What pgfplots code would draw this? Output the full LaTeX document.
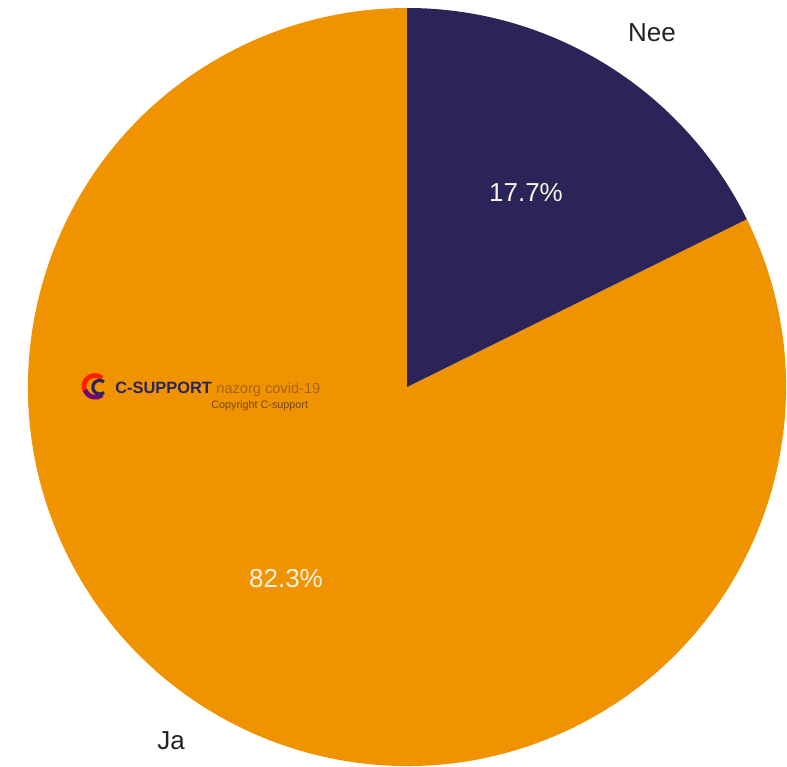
\documentclass[border=0pt]{standalone}
\usepackage{pgfplots}
\usepackage{pgfplotstable}
\pgfplotsset{compat=1.18}
\usepackage{fontspec}
\setmainfont{Liberation Sans}
\definecolor{navy}{HTML}{2A2459}
\definecolor{orng}{HTML}{F09300}
\definecolor{lbl}{HTML}{222222}
\definecolor{pct}{HTML}{FAF2E2}
\definecolor{brownish}{HTML}{A8641A}
\pgfplotstableread{
label value
Nee 17.7
Ja 82.3
}\piedata
\begin{document}
\begin{tikzpicture}
\pgfplotstablegetelem{0}{value}\of\piedata \let\vNee\pgfplotsretval
\pgfplotstablegetelem{1}{value}\of\piedata \let\vJa\pgfplotsretval
\pgfmathsetmacro{\aStart}{90}
\pgfmathsetmacro{\aMid}{90-3.6*\vNee}
\pgfmathsetmacro{\aEnd}{\aMid-3.6*\vJa}
\begin{axis}[
  x=0.5pt, y=0.5pt,
  xmin=-407, xmax=380, ymin=-379, ymax=387,
  hide axis, clip=false,
]
\path (axis cs:-407,-379) rectangle (axis cs:380,387);
\fill[orng, overlay] (axis cs:0,0) -- (axis cs:{379*cos(\aMid)},{379*sin(\aMid)})
  arc[start angle=\aMid, end angle=\aEnd, radius=189.5pt] -- cycle;
\fill[navy, overlay] (axis cs:0,0) -- (axis cs:0,379)
  arc[start angle=\aStart, end angle=\aMid, radius=189.5pt] -- cycle;
\node[font=\fontsize{13}{15}\selectfont, text=lbl] at (axis cs:245,354) {Nee};
\node[font=\fontsize{13}{15}\selectfont, text=lbl] at (axis cs:-236,-354) {Ja};
\node[font=\fontsize{13}{15}\selectfont, text=pct] at (axis cs:119,194) {17.7\%};
\node[font=\fontsize{13}{15}\selectfont, text=pct] at (axis cs:-121,-192) {82.3\%};
% logo
\draw[overlay, line width=2.4pt, red!75!orange] (axis cs:-305,9) arc[start angle=50, end angle=200, radius=5.5pt];
\draw[overlay, line width=2.4pt, violet!80!navy] (axis cs:-322,-3) arc[start angle=200, end angle=310, radius=5.5pt];
\draw[overlay, line width=1.6pt, navy] (axis cs:-303,5) arc[start angle=50, end angle=310, radius=3.4pt];
\node[anchor=base west, inner sep=0pt, font=\fontsize{8.2}{9}\selectfont\bfseries, text=navy] at (axis cs:-292,-7) {C-SUPPORT};
\node[anchor=base west, inner sep=0pt, font=\fontsize{7.3}{9}\selectfont, text=brownish] at (axis cs:-191,-7) {nazorg covid-19};
\node[anchor=base west, inner sep=0pt, font=\fontsize{5.4}{7}\selectfont, text=brownish!70!black] at (axis cs:-196,-22) {Copyright C-support};
\end{axis}
\end{tikzpicture}
\end{document}
